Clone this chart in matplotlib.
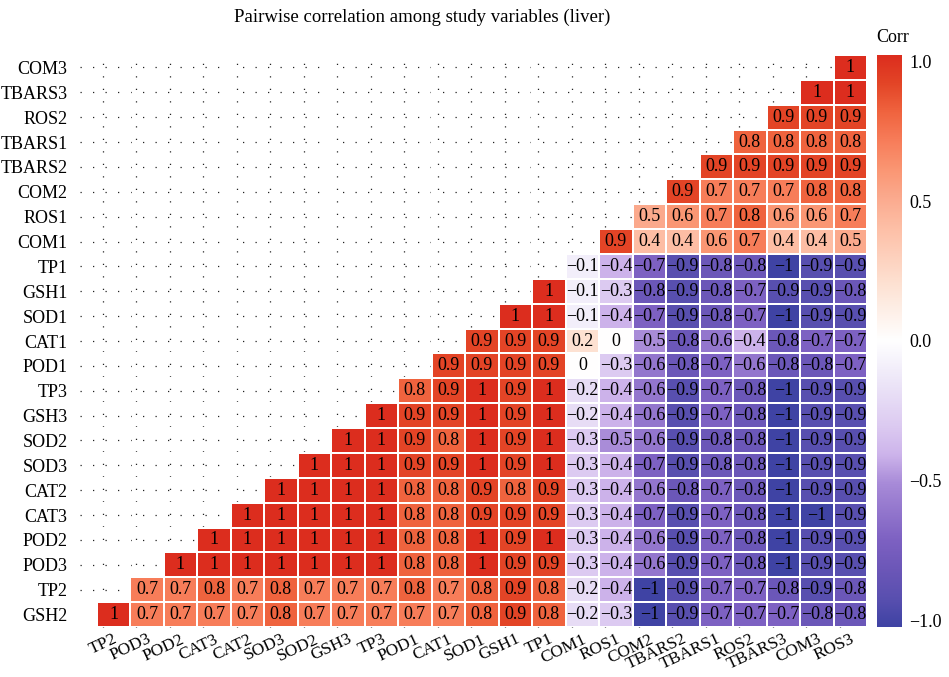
"""
Pairwise correlation among study variables (liver) - lower triangle heatmap
"""

import numpy as np
import matplotlib
matplotlib.use('Agg')
import matplotlib.pyplot as plt
from matplotlib.colors import LinearSegmentedColormap

# column labels (left to right)
cols = ['TP2', 'POD3', 'POD2', 'CAT3', 'CAT2', 'SOD3', 'SOD2', 'GSH3', 'TP3',
        'POD1', 'CAT1', 'SOD1', 'GSH1', 'TP1', 'COM1', 'ROS1', 'COM2',
        'TBARS2', 'TBARS1', 'ROS2', 'TBARS3', 'COM3', 'ROS3']

# row labels (bottom to top)
rows = ['GSH2', 'TP2', 'POD3', 'POD2', 'CAT3', 'CAT2', 'SOD3', 'SOD2', 'GSH3',
        'TP3', 'POD1', 'CAT1', 'SOD1', 'GSH1', 'TP1', 'COM1', 'ROS1', 'COM2',
        'TBARS2', 'TBARS1', 'ROS2', 'TBARS3', 'COM3']

# correlation values, row k starts at column k
r_GSH2 = [1, 0.7, 0.7, 0.7, 0.7, 0.8, 0.7, 0.7, 0.7, 0.7, 0.7, 0.8, 0.9, 0.8,
          -0.2, -0.3, -1, -0.9, -0.7, -0.7, -0.7, -0.8, -0.8]
r_TP2 = [0.7, 0.7, 0.8, 0.7, 0.8, 0.7, 0.7, 0.7, 0.8, 0.7, 0.8, 0.9, 0.8,
         -0.2, -0.4, -1, -0.9, -0.7, -0.7, -0.8, -0.9, -0.8]
r_POD3 = [1, 1, 1, 1, 1, 1, 1, 0.8, 0.8, 1, 0.9, 0.9,
          -0.3, -0.4, -0.6, -0.9, -0.7, -0.8, -1, -0.9, -0.9]
r_POD2 = [1, 1, 1, 1, 1, 1, 0.8, 0.8, 1, 0.9, 1,
          -0.3, -0.4, -0.6, -0.9, -0.7, -0.8, -1, -0.9, -0.9]
r_CAT3 = [1, 1, 1, 1, 1, 0.8, 0.8, 0.9, 0.9, 0.9,
          -0.3, -0.4, -0.7, -0.9, -0.7, -0.8, -1, -1, -0.9]
r_CAT2 = [1, 1, 1, 1, 0.8, 0.8, 0.9, 0.8, 0.9,
          -0.3, -0.4, -0.6, -0.8, -0.7, -0.8, -1, -0.9, -0.9]
r_SOD3 = [1, 1, 1, 0.9, 0.9, 1, 0.9, 1,
          -0.3, -0.4, -0.7, -0.9, -0.8, -0.8, -1, -0.9, -0.9]
r_SOD2 = [1, 1, 0.9, 0.8, 1, 0.9, 1,
          -0.3, -0.5, -0.6, -0.9, -0.8, -0.8, -1, -0.9, -0.9]
r_GSH3 = [1, 0.9, 0.9, 1, 0.9, 1,
          -0.2, -0.4, -0.6, -0.9, -0.7, -0.8, -1, -0.9, -0.9]
r_TP3 = [0.8, 0.9, 1, 0.9, 1,
         -0.2, -0.4, -0.6, -0.9, -0.7, -0.8, -1, -0.9, -0.9]
r_POD1 = [0.9, 0.9, 0.9, 0.9,
          0, -0.3, -0.6, -0.8, -0.7, -0.6, -0.8, -0.8, -0.7]
r_CAT1 = [0.9, 0.9, 0.9, 0.2, 0, -0.5, -0.8, -0.6, -0.4, -0.8, -0.7, -0.7]
r_SOD1 = [1, 1, -0.1, -0.4, -0.7, -0.9, -0.8, -0.7, -1, -0.9, -0.9]
r_GSH1 = [1, -0.1, -0.3, -0.8, -0.9, -0.8, -0.7, -0.9, -0.9, -0.8]
r_TP1 = [-0.1, -0.4, -0.7, -0.9, -0.8, -0.8, -1, -0.9, -0.9]
r_COM1 = [0.9, 0.4, 0.4, 0.6, 0.7, 0.4, 0.4, 0.5]
r_ROS1 = [0.5, 0.6, 0.7, 0.8, 0.6, 0.6, 0.7]
r_COM2 = [0.9, 0.7, 0.7, 0.7, 0.8, 0.8]
r_TBARS2 = [0.9, 0.9, 0.9, 0.9, 0.9]
r_TBARS1 = [0.8, 0.8, 0.8, 0.8]
r_ROS2 = [0.9, 0.9, 0.9]
r_TBARS3 = [1, 1]
r_COM3 = [1]

row_vals = [r_GSH2, r_TP2, r_POD3, r_POD2, r_CAT3, r_CAT2, r_SOD3, r_SOD2,
            r_GSH3, r_TP3, r_POD1, r_CAT1, r_SOD1, r_GSH1, r_TP1, r_COM1,
            r_ROS1, r_COM2, r_TBARS2, r_TBARS1, r_ROS2, r_TBARS3, r_COM3]

n = len(cols)
mat = np.full((n, n), np.nan)
for k, vals in enumerate(row_vals):
    mat[k, k:k + len(vals)] = vals
mat = np.ma.masked_invalid(mat)

# colour scale (blue - white - red, interpolated like ggplot)
cmap = LinearSegmentedColormap.from_list('corr', [
    (0.00, '#3F43A4'), (0.05, '#5A50B0'), (0.10, '#6C57B8'),
    (0.15, '#7D61C2'), (0.25, '#A88BD8'), (0.30, '#CDB4EB'),
    (0.35, '#DCCAF1'), (0.45, '#F2EEFA'), (0.50, '#FFFFFF'),
    (0.60, '#FDE1D2'), (0.70, '#FDBEA5'), (0.75, '#FBAA8E'),
    (0.80, '#FA9673'), (0.85, '#F77D5A'), (0.90, '#F0643F'),
    (0.95, '#E34527'), (1.00, '#DC2D1E')])

plt.rcParams['font.family'] = 'Liberation Serif'
plt.rcParams['axes.unicode_minus'] = True

fig = plt.figure(figsize=(9.49, 6.77), dpi=100)
ax = fig.add_axes([80/949, 50/677, 787/949, 572/677])

# dotted background grid (slightly offset like the original)
for k in range(n):
    ax.vlines(k - 0.32, -0.5, 22.6, color='#222222', lw=0.9,
              linestyle=(0, (1, 9)), zorder=0, clip_on=False)
for k in range(1, n):
    ax.hlines(k, -1.0, 22.5, color='#222222', lw=0.9,
              linestyle=(0, (1, 9)), zorder=0)

x = np.arange(n + 1) - 0.5
ax.pcolormesh(x, x, mat, cmap=cmap, vmin=-1, vmax=1,
              edgecolors='white', linewidth=1.3, zorder=2)

def fmt(v):
    s = '%g' % abs(v)
    return ('\u2212' + s) if v < 0 else s

for k, vals in enumerate(row_vals):
    for j, v in enumerate(vals):
        ax.text(k + j, k, fmt(v), ha='center', va='center',
                fontsize=13, color='black', zorder=3)

ax.set_xlim(-1.0, 22.5)
ax.set_ylim(-0.5, 22.5)
ax.set_xticks(range(n))
ax.set_xticklabels(cols, rotation=25, ha='right', rotation_mode='anchor',
                   fontsize=12.5)
ax.set_yticks(range(n))
ax.set_yticklabels(rows, fontsize=13)
ax.tick_params(length=0)
ax.tick_params(axis='y', pad=9)
ax.tick_params(axis='x', pad=3)
for sp in ax.spines.values():
    sp.set_visible(False)

# colour bar
cax = fig.add_axes([877/949, 50/677, 24/949, 572/677])
grad = np.linspace(-1, 1, 256).reshape(-1, 1)
cax.imshow(grad, cmap=cmap, vmin=-1, vmax=1, aspect='auto', origin='lower',
           extent=[0, 1, -1.023, 1.023])
cax.set_ylim(-1.023, 1.023)
cax.set_xticks([])
cax.yaxis.tick_right()
cax.set_yticks([-1, -0.5, 0, 0.5, 1])
cax.set_yticklabels(['\u22121.0', '\u22120.5', '0.0', '0.5', '1.0'],
                    fontsize=13)
cax.tick_params(length=0, pad=6)
for sp in cax.spines.values():
    sp.set_visible(False)
fig.text(893/949, 1 - 38/677, 'Corr', ha='center', va='center', fontsize=13)

fig.text(422/949, 1 - 17/677,
         'Pairwise correlation among study variables (liver)',
         ha='center', va='center', fontsize=13.5)

fig.savefig('out.png', dpi=100)
